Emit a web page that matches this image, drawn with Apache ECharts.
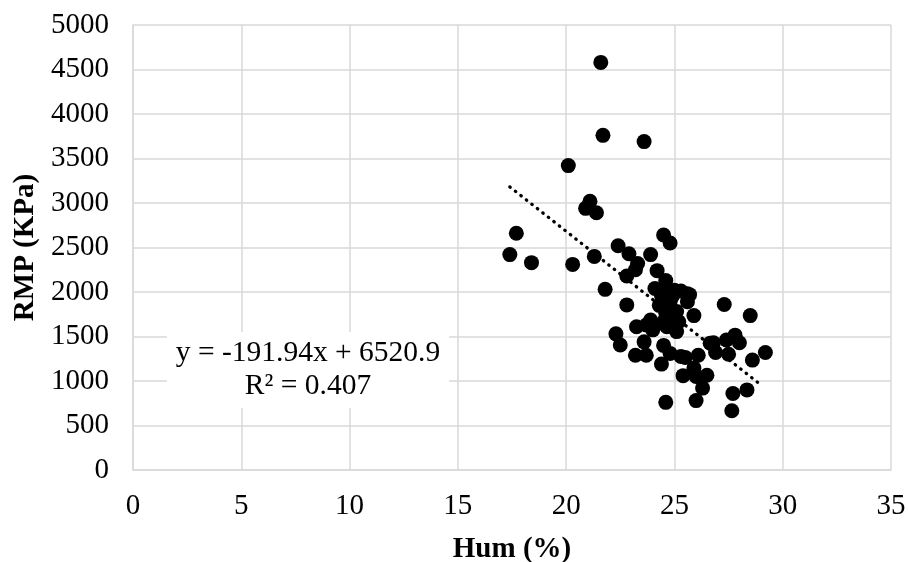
<!DOCTYPE html>
<html>
<head>
<meta charset="utf-8">
<script src="https://cdn.jsdelivr.net/npm/echarts@6/dist/echarts.min.js"></script>
<style>
  html, body { margin: 0; padding: 0; background: #fff; }
  #chart { width: 908px; height: 562px; }
</style>
</head>
<body>
<div id="chart"></div>
<script>
// Humidity (%) vs RMP (KPa) samples
const humidity = [
  21.6, 21.7, 23.6, 20.1, 21.1, 20.9, 21.4, 17.7, 17.4, 18.4,
  20.3, 21.3, 22.4, 22.9, 23.3, 23.9, 24.5, 24.8, 22.8, 23.2,
  24.2, 24.6, 21.8, 24.1, 24.5, 25.0, 25.3, 25.6, 25.7, 25.6,
  24.8, 24.3, 27.3, 28.5, 22.8, 25.9, 24.6, 25.1, 23.9, 24.5,
  25.2, 23.25, 24.0, 24.65, 25.1, 23.7, 22.3, 22.5, 23.6, 24.5,
  23.2, 23.7, 24.4, 24.8, 25.3, 25.5, 26.1, 26.8, 26.9, 27.4,
  27.8, 28.0, 27.5, 28.6, 29.2, 25.4, 25.9, 26.5, 26.0, 26.3,
  27.7, 28.35, 24.6, 26.0, 27.65, 26.65, 24.7, 24.9, 24.4, 24.9
];
const rmp = [
  4580, 3760, 3690, 3420, 3020, 2940, 2890, 2660, 2420, 2330,
  2310, 2400, 2520, 2430, 2320, 2420, 2640, 2550, 2180, 2250,
  2240, 2130, 2030, 2040, 2000, 2020, 2010, 1980, 1970, 1890,
  1890, 1850, 1860, 1735, 1855, 1735, 1760, 1780, 1685, 1665,
  1665, 1610, 1575, 1610, 1555, 1630, 1530, 1405, 1440, 1400,
  1290, 1290, 1190, 1310, 1275, 1265, 1290, 1430, 1320, 1460,
  1515, 1430, 1300, 1235, 1320, 1060, 1145, 1065, 1050, 920,
  860, 900, 760, 780, 665, 1425, 1840, 1720, 1960, 1950
];

// Linear fit reported on the chart, drawn over the fitted range
const slope = -191.94;
const intercept = 6520.9;
const rSquared = 0.407;
const fitRange = [17.4, 28.9];

const xTicks = { min: 0, max: 35, step: 5 };
const yTicks = { min: 0, max: 5000, step: 500 };

const points = humidity.map((h, i) => [h, rmp[i]]);
const fitLine = fitRange.map(x => [x, slope * x + intercept]);

const serif = '"Liberation Serif", "Times New Roman", serif';
const gridColor = '#d9d9d9';

const chart = echarts.init(document.getElementById('chart'), null, { renderer: 'canvas' });
chart.setOption({
  animation: false,
  backgroundColor: '#fff',
  grid: { left: 133, right: 17, top: 25, bottom: 92, containLabel: false, outerBoundsMode: 'none' },
  xAxis: {
    type: 'value',
    min: xTicks.min, max: xTicks.max, interval: xTicks.step,
    name: 'Hum (%)',
    nameLocation: 'middle',
    nameGap: 65,
    nameTextStyle: { fontFamily: serif, fontSize: 29, fontWeight: 'bold', color: '#000' },
    axisLine: { show: true, lineStyle: { color: gridColor, width: 1.5 } },
    axisTick: { show: false },
    axisLabel: { fontFamily: serif, fontSize: 29, color: '#000', margin: 22 },
    splitLine: { show: true, lineStyle: { color: gridColor, width: 1.5 } }
  },
  yAxis: {
    type: 'value',
    min: yTicks.min, max: yTicks.max, interval: yTicks.step,
    name: 'RMP (KPa)',
    nameLocation: 'middle',
    nameGap: 87,
    nameTextStyle: { fontFamily: serif, fontSize: 29, fontWeight: 'bold', color: '#000' },
    axisLine: { show: true, lineStyle: { color: gridColor, width: 1.5 } },
    axisTick: { show: false },
    axisLabel: { fontFamily: serif, fontSize: 29, color: '#000', margin: 24, formatter: v => String(v) },
    splitLine: { show: true, lineStyle: { color: gridColor, width: 1.5 } }
  },
  series: [
    {
      type: 'scatter',
      data: points,
      symbol: 'circle',
      symbolSize: 15,
      itemStyle: { color: '#000', opacity: 1 },
      z: 3
    },
    {
      type: 'line',
      data: fitLine,
      symbol: 'none',
      lineStyle: { color: '#000', width: 3.3, type: [0.5, 6.5], cap: 'round' },
      z: 4
    }
  ],
  graphic: [
    {
      type: 'text',
      x: 308,
      y: 370,
      z: 10,
      style: {
        text: 'y = ' + slope + 'x + ' + intercept + '\nR² = ' + rSquared,
        fill: '#000',
        font: '29.5px ' + serif,
        align: 'center',
        verticalAlign: 'middle',
        lineHeight: 33,
        backgroundColor: '#fff',
        padding: [5, 9]
      }
    }
  ]
});
</script>
</body>
</html>
